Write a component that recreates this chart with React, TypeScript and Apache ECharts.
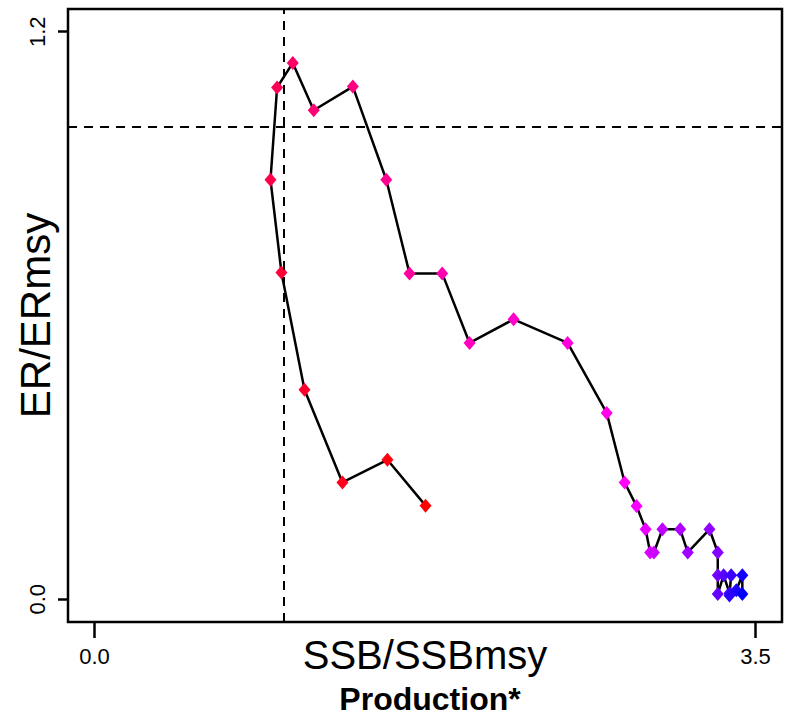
import React, { useEffect, useRef } from "react";
import * as echarts from "echarts";

// SSB/SSBmsy (x) and ER/ERmsy (y), in time order (red -> blue)
const ssb = [
  1.753, 1.551, 1.313, 1.112, 0.990, 0.932, 0.967, 1.050, 1.161, 1.368,
  1.545, 1.668, 1.841, 1.986, 2.219, 2.505, 2.712, 2.807, 2.870, 2.918,
  2.942, 2.962, 3.007, 3.101, 3.141, 3.256, 3.300, 3.300, 3.300, 3.331,
  3.362, 3.371, 3.362, 3.398, 3.430, 3.430,
];
const er = [
  0.198, 0.295, 0.247, 0.443, 0.691, 0.887, 1.082, 1.134, 1.034, 1.084,
  0.887, 0.689, 0.689, 0.542, 0.592, 0.542, 0.394, 0.247, 0.197, 0.148,
  0.099, 0.099, 0.148, 0.148, 0.099, 0.148, 0.099, 0.051, 0.011, 0.051,
  0.013, 0.051, 0.008, 0.019, 0.051, 0.011,
];
const xTicks = [0, 3.5];
const yTicks = [0, 1.2];
const refX = 1.0;
const refY = 1.0;

const FONT = "Liberation Sans, Arial, sans-serif";

function hueColor(h: number): string {
  h = ((h % 360) + 360) % 360;
  const f = (n: number) => {
    const k = (n + h / 60) % 6;
    return Math.round(255 * (1 - Math.max(0, Math.min(k, 4 - k, 1))));
  };
  const hex = (v: number) => v.toString(16).padStart(2, "0");
  return "#" + hex(f(5)) + hex(f(3)) + hex(f(1));
}

export default function App() {
  const ref = useRef<HTMLDivElement>(null);
  useEffect(() => {
    if (!ref.current) return;
    const chart = echarts.init(ref.current, undefined, { renderer: "svg" });
    const n = ssb.length;
    const data = ssb.map((x, i) => ({
      value: [x, er[i]],
      itemStyle: { color: hueColor(360 - (120 * i) / (n - 1)) },
    }));
    chart.setOption({
      animation: false,
      backgroundColor: "#fff",
      title: {
        text: "Production*",
        left: 425,
        textAlign: "center",
        top: 678,
        textStyle: { fontFamily: FONT, fontWeight: "bold", fontSize: 32, color: "#000" },
      },
      grid: {
        left: 68,
        right: 11,
        top: 9,
        bottom: 101,
        containLabel: false,
        outerBoundsMode: "none",
        show: true,
        borderColor: "#000",
        borderWidth: 2.5,
        backgroundColor: "transparent",
      },
      xAxis: {
        type: "value",
        min: -0.14,
        max: 3.64,
        name: "SSB/SSBmsy",
        nameLocation: "middle",
        nameGap: 13,
        nameMoveOverlap: false,
        nameTextStyle: { fontFamily: FONT, fontSize: 40, color: "#000", verticalAlign: "top" },
        axisLine: { show: false, onZero: false },
        splitLine: { show: false },
        axisTick: {
          show: true,
          customValues: xTicks,
          length: 16,
          lineStyle: { color: "#000", width: 2.5 },
        },
        axisLabel: {
          customValues: xTicks,
          formatter: (v: number) => v.toFixed(1),
          margin: 23,
          fontFamily: FONT,
          fontSize: 22,
          color: "#000",
        },
      },
      yAxis: {
        type: "value",
        min: -0.048,
        max: 1.248,
        name: "ER/ERmsy",
        nameLocation: "middle",
        nameGap: 12,
        nameRotate: 90,
        nameMoveOverlap: false,
        nameTextStyle: { fontFamily: FONT, fontSize: 42, color: "#000", verticalAlign: "bottom" },
        axisLine: { show: false, onZero: false },
        splitLine: { show: false },
        axisTick: {
          show: true,
          customValues: yTicks,
          length: 10,
          lineStyle: { color: "#000", width: 2.5 },
        },
        axisLabel: {
          customValues: yTicks,
          formatter: (v: number) => v.toFixed(1),
          rotate: 90,
          margin: 20,
          fontFamily: FONT,
          fontSize: 22,
          color: "#000",
        },
      },
      series: [
        {
          type: "line",
          data,
          symbol: "diamond",
          symbolSize: [12, 14],
          lineStyle: { color: "#000", width: 2.5 },
          itemStyle: { borderWidth: 0 },
          color: "#000",
          markLine: {
            silent: true,
            symbol: ["none", "none"],
            label: { show: false },
            lineStyle: { color: "#000", width: 2, type: [9, 7] },
            data: [{ xAxis: refX }, { yAxis: refY }],
          },
        },
      ],
    });
    return () => chart.dispose();
  }, []);
  return (
    <div
      ref={ref}
      style={{ position: "fixed", left: 0, top: 0, width: 793, height: 723 }}
    />
  );
}
